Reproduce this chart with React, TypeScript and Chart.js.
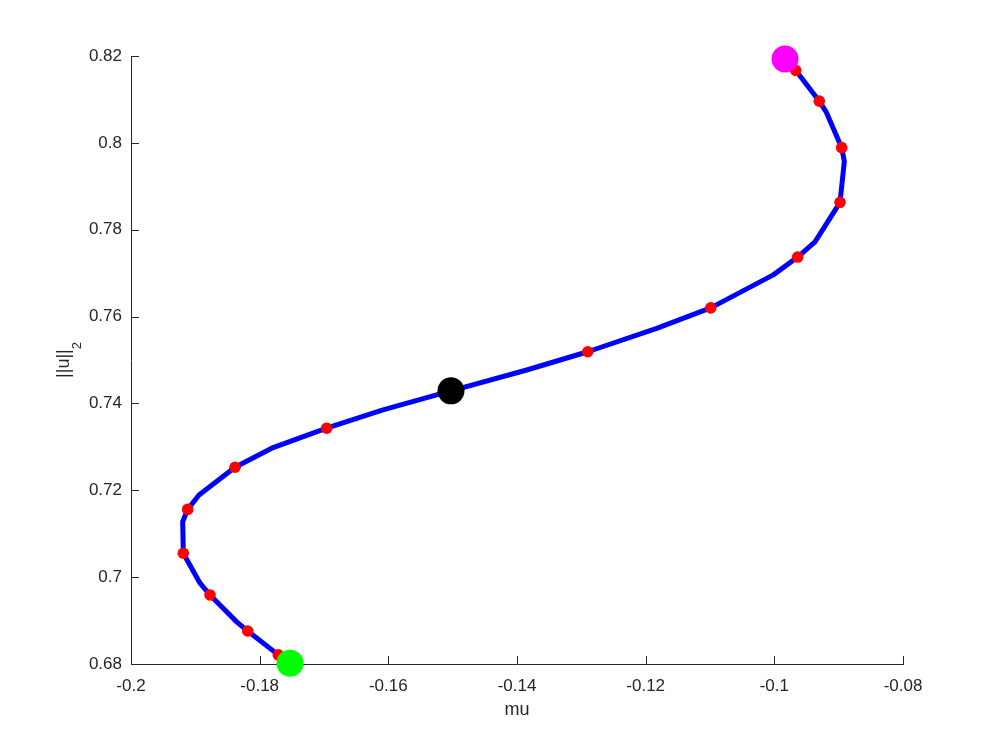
import React, { useEffect, useRef } from "react";
import { Chart, registerables } from "chart.js";

Chart.register(...registerables);

// Continuation curve (blue line), from the green start to the magenta end
const curveMu = [
  -0.17528, -0.1771, -0.18186, -0.18357, -0.18772, -0.18927, -0.19187, -0.19196,
  -0.19119, -0.18943, -0.18383, -0.17813, -0.16958, -0.16083, -0.15026, -0.13849,
  -0.12901, -0.11829, -0.10989, -0.10016, -0.09637, -0.09368, -0.08979, -0.08912,
  -0.08953, -0.09197, -0.09301, -0.09668, -0.09834,
];
const curveNorm = [
  0.6802, 0.6821, 0.6876, 0.6897, 0.6959, 0.6986, 0.7055, 0.7128,
  0.7156, 0.7189, 0.7253, 0.7297, 0.7343, 0.7385, 0.7429, 0.7477,
  0.7519, 0.7573, 0.762, 0.7696, 0.7737, 0.7772, 0.7863, 0.7957,
  0.7989, 0.8072, 0.8096, 0.8167, 0.8193,
];

// Red markers
const markerMu = [
  -0.1771, -0.18186, -0.18772, -0.19187, -0.19119, -0.18383, -0.16958,
  -0.12901, -0.10989, -0.09637, -0.08979, -0.08953, -0.09301, -0.09668,
];
const markerNorm = [
  0.6821, 0.6876, 0.6959, 0.7055, 0.7156, 0.7253, 0.7343,
  0.7519, 0.762, 0.7737, 0.7863, 0.7989, 0.8096, 0.8167,
];

// Special points
const startPoint = { mu: -0.17528, norm: 0.6802 }; // green
const midPoint = { mu: -0.15026, norm: 0.7429 }; // black
const endPoint = { mu: -0.09834, norm: 0.8193 }; // magenta

// Axes
const xTickValues = [-0.2, -0.18, -0.16, -0.14, -0.12, -0.1, -0.08];
const xTickLabels = ["-0.2", "-0.18", "-0.16", "-0.14", "-0.12", "-0.1", "-0.08"];
const yTickValues = [0.68, 0.7, 0.72, 0.74, 0.76, 0.78, 0.8, 0.82];
const yTickLabels = ["0.68", "0.7", "0.72", "0.74", "0.76", "0.78", "0.8", "0.82"];
const xTitle = "mu";
const yTitleMain = "||u||";
const yTitleSub = "2";

const AXIS_COLOR = "#262626";
const FONT_FAMILY = "'Liberation Sans', Arial, Helvetica, sans-serif";

const matlabAxes = {
  id: "matlabAxes",
  beforeDatasetsDraw(chart: any) {
    const { ctx, chartArea, scales } = chart;
    const xs = scales.x;
    const ys = scales.y;
    ctx.save();
    ctx.strokeStyle = AXIS_COLOR;
    ctx.lineWidth = 1;
    ctx.beginPath();
    const tl = 8;
    for (const v of xTickValues) {
      const px = Math.round(xs.getPixelForValue(v)) + 0.5;
      ctx.moveTo(px, chartArea.bottom);
      ctx.lineTo(px, chartArea.bottom - tl);
    }
    for (const v of yTickValues) {
      const py = Math.round(ys.getPixelForValue(v)) + 0.5;
      ctx.moveTo(chartArea.left, py);
      ctx.lineTo(chartArea.left + tl, py);
    }
    ctx.stroke();
    ctx.restore();
  },
  afterDraw(chart: any) {
    const { ctx, chartArea } = chart;
    ctx.save();
    ctx.fillStyle = AXIS_COLOR;
    // x title
    ctx.font = `18px ${FONT_FAMILY}`;
    ctx.textAlign = "center";
    ctx.textBaseline = "middle";
    ctx.fillText(xTitle, (chartArea.left + chartArea.right) / 2, chartArea.bottom + 46);
    // y title with subscript, rotated
    ctx.font = `18px ${FONT_FAMILY}`;
    const wMain = ctx.measureText(yTitleMain).width;
    ctx.font = `13px ${FONT_FAMILY}`;
    const wSub = ctx.measureText(yTitleSub).width;
    const cy = (chartArea.top + chartArea.bottom) / 2;
    const baseX = 69;
    ctx.translate(baseX, cy + (wMain + wSub) / 2);
    ctx.rotate(-Math.PI / 2);
    ctx.textAlign = "left";
    ctx.textBaseline = "alphabetic";
    ctx.font = `18px ${FONT_FAMILY}`;
    ctx.fillText(yTitleMain, 0, 0);
    ctx.font = `13px ${FONT_FAMILY}`;
    ctx.fillText(yTitleSub, wMain, 12);
    ctx.restore();
  },
};

export default function App() {
  const canvasRef = useRef<HTMLCanvasElement | null>(null);

  useEffect(() => {
    const canvas = canvasRef.current;
    if (!canvas) return;
    const curve = curveMu.map((m, i) => ({ x: m, y: curveNorm[i] }));
    const markers = markerMu.map((m, i) => ({ x: m, y: markerNorm[i] }));

    const chart = new Chart(canvas, {
      type: "scatter",
      data: {
        datasets: [
          {
            label: "start",
            data: [{ x: startPoint.mu, y: startPoint.norm }],
            pointRadius: 13.5,
            pointBackgroundColor: "#00ff00",
            pointBorderColor: "#00ff00",
            pointBorderWidth: 0,
            clip: false,
            order: 0,
          },
          {
            label: "end",
            data: [{ x: endPoint.mu, y: endPoint.norm }],
            pointRadius: 13.5,
            pointBackgroundColor: "#ff00ff",
            pointBorderColor: "#ff00ff",
            pointBorderWidth: 0,
            clip: false,
            order: 1,
          },
          {
            label: "mid",
            data: [{ x: midPoint.mu, y: midPoint.norm }],
            pointRadius: 13.5,
            pointBackgroundColor: "#000000",
            pointBorderColor: "#000000",
            pointBorderWidth: 0,
            clip: false,
            order: 2,
          },
          {
            label: "markers",
            data: markers,
            pointRadius: 5.8,
            pointBackgroundColor: "#ff0000",
            pointBorderColor: "#ff0000",
            pointBorderWidth: 0,
            clip: false,
            order: 3,
          },
          {
            label: "curve",
            data: curve,
            showLine: true,
            borderColor: "#0000ff",
            borderWidth: 5,
            pointRadius: 0,
            tension: 0,
            borderJoinStyle: "round",
            borderCapStyle: "butt",
            clip: false,
            order: 4,
          },
        ],
      },
      options: {
        responsive: false,
        animation: false,
        events: [],
        layout: { padding: { top: 56, right: 94, bottom: 0, left: 0 } },
        plugins: {
          legend: { display: false },
          tooltip: { enabled: false },
          title: { display: false },
        },
        scales: {
          x: {
            type: "linear",
            position: "bottom",
            min: -0.2,
            max: -0.08,
            afterBuildTicks: (scale: any) => {
              scale.ticks = xTickValues.map((v) => ({ value: v }));
            },
            afterFit: (scale: any) => {
              scale.height = 83;
            },
            grid: { display: false, drawTicks: false },
            border: { display: true, color: AXIS_COLOR, width: 1 },
            ticks: {
              autoSkip: false,
              maxRotation: 0,
              padding: 12,
              color: AXIS_COLOR,
              font: { family: FONT_FAMILY, size: 17 },
              callback: (_v: any, i: number) => xTickLabels[i],
            },
          },
          y: {
            type: "linear",
            position: "left",
            min: 0.68,
            max: 0.82,
            afterBuildTicks: (scale: any) => {
              scale.ticks = yTickValues.map((v) => ({ value: v }));
            },
            afterFit: (scale: any) => {
              scale.width = 131;
            },
            grid: { display: false, drawTicks: false },
            border: { display: true, color: AXIS_COLOR, width: 1 },
            ticks: {
              autoSkip: false,
              padding: 9,
              color: AXIS_COLOR,
              font: { family: FONT_FAMILY, size: 17 },
              callback: (_v: any, i: number) => yTickLabels[i],
            },
          },
        },
      },
      plugins: [matlabAxes],
    });

    return () => {
      chart.destroy();
    };
  }, []);

  return (
    <div
      style={{
        position: "fixed",
        left: 0,
        top: 0,
        width: 997,
        height: 747,
        background: "#ffffff",
      }}
    >
      <canvas ref={canvasRef} width={997} height={747} />
    </div>
  );
}
